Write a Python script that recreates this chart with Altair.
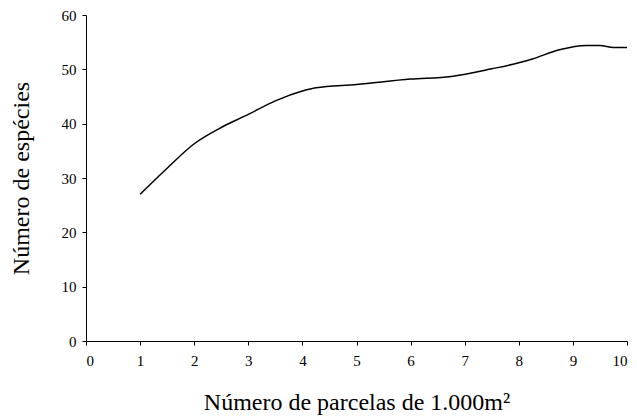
import altair as alt
import pandas as pd

parcelas = [1, 1.5, 2, 2.5, 3, 3.5, 4, 4.25, 5, 6, 6.75, 7.5, 8, 8.25, 8.75, 9.25, 9.5, 9.75, 10]
especies = [27, 31.8, 36.3, 39.3, 41.7, 44.2, 46.0, 46.6, 47.2, 48.2, 48.7, 50.1, 51.2, 51.9, 53.6, 54.4, 54.4, 54.0, 54.0]

df = pd.DataFrame({"x": parcelas, "y": especies})

FONT = "Liberation Serif"

chart = alt.Chart(df).mark_line(color="black", strokeWidth=1.5, interpolate="monotone").encode(
    x=alt.X("x:Q", scale=alt.Scale(domain=[0, 10], nice=False),
            axis=alt.Axis(title="Número de parcelas de 1.000m²", values=list(range(0, 11)),
                          format="d", titlePadding=22, labelPadding=8)),
    y=alt.Y("y:Q", scale=alt.Scale(domain=[0, 60], nice=False),
            axis=alt.Axis(title="Número de espécies", values=list(range(0, 61, 10)),
                          titlePadding=28, labelPadding=6)),
).properties(
    width=541, height=326,
    autosize=alt.AutoSizeParams(type="none"),
    padding={"left": 86, "top": 15, "right": 10, "bottom": 75},
).configure_axis(
    grid=False, domainColor="black", domainWidth=1, tickColor="black", tickSize=4,
    labelFont=FONT, labelFontSize=15, labelColor="black",
    titleFont=FONT, titleFontSize=24, titleFontWeight="normal", titleColor="black",
).configure_view(stroke=None)

chart.save("out.html", embed_options={"renderer": "svg", "actions": False})
